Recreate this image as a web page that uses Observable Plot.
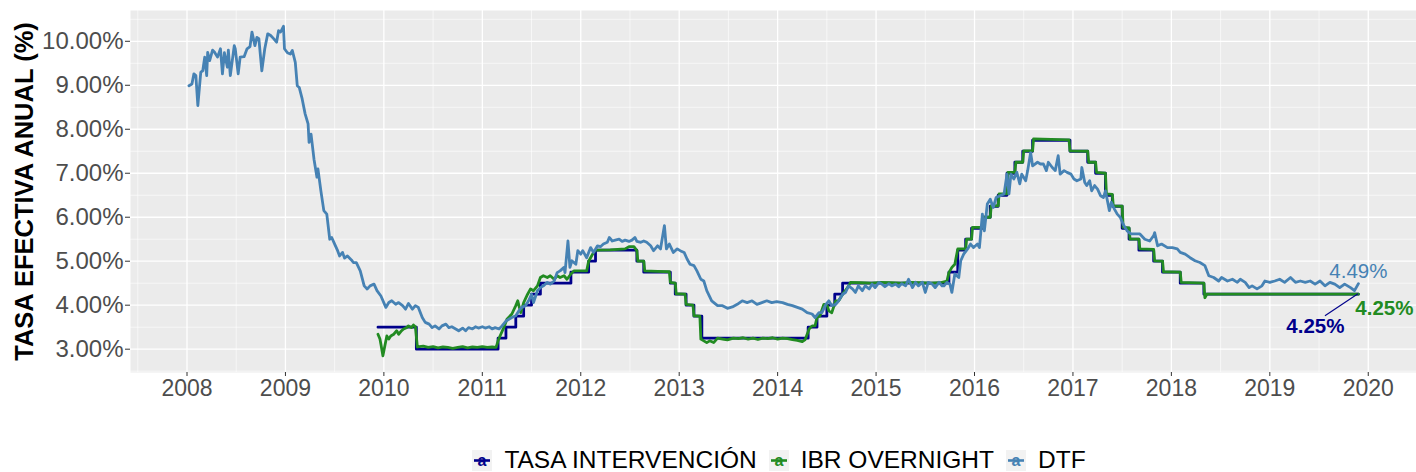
<!DOCTYPE html>
<html>
<head>
<meta charset="utf-8">
<script src="https://cdn.jsdelivr.net/npm/d3@7"></script>
<script src="https://cdn.jsdelivr.net/npm/@observablehq/plot@0.6"></script>
<style>
html, body { margin: 0; padding: 0; background: #ffffff; }
body { width: 1416px; height: 472px; overflow: hidden; position: relative; font-family: "Liberation Sans", Arial, sans-serif; }
#chart { position: absolute; left: 0; top: 0; }
#legend { position: absolute; left: 0; top: 448px; width: 1416px; padding-left: 142px; box-sizing: border-box; height: 24px;
  display: flex; justify-content: center; align-items: center; font-size: 24.5px; color: #000; }
.item { display: flex; align-items: center; margin: 0 6px; }
.item svg { margin-right: 12px; }
</style>
</head>
<body>
<div id="chart"></div>
<div id="legend"></div>
<script>
// ---------------- DATA ----------------
const seriesNames = ["TASA INTERVENCIÓN", "IBR OVERNIGHT", "DTF"];
const seriesColors = ["#00008B", "#228B22", "#4682B4"];
const xTicks = [2008, 2009, 2010, 2011, 2012, 2013, 2014, 2015, 2016, 2017, 2018, 2019, 2020];
const yTicks = [3, 4, 5, 6, 7, 8, 9, 10];
const yTitle = "TASA EFECTIVA ANUAL (%)";

// DTF (weekly, decimal years)
const dtfDates = [
2008.02,2008.05,2008.07,2008.09,2008.11,2008.14,2008.16,2008.18,2008.20,2008.21,2008.23,2008.26,2008.28,2008.31,2008.34,2008.36,2008.38,2008.41,2008.42,2008.44,
2008.48,2008.49,2008.52,2008.54,2008.58,2008.61,2008.64,2008.66,2008.69,2008.71,2008.73,2008.76,2008.79,2008.82,2008.85,2008.88,2008.91,2008.93,2008.95,2008.98,
2008.99,2009.02,2009.05,2009.07,2009.10,2009.12,2009.14,2009.17,2009.20,2009.23,2009.24,2009.26,2009.29,2009.32,2009.33,2009.36,2009.39,2009.42,2009.45,2009.47,
2009.50,2009.53,2009.55,2009.58,2009.60,2009.63,2009.67,2009.69,2009.72,
2009.76,2009.80,2009.83,2009.86,2009.90,2009.93,2009.97,2010.02,2010.05,2010.08,2010.12,2010.15,2010.19,2010.22,2010.25,2010.29,2010.32,2010.35,2010.39,2010.42,
2010.46,2010.49,2010.52,2010.56,2010.59,2010.63,2010.66,2010.69,2010.73,2010.76,2010.80,2010.83,2010.86,2010.90,2010.93,2010.96,2011.00,2011.03,2011.07,2011.10,
2011.13,2011.17,2011.20,2011.24,2011.27,2011.30,2011.34,2011.37,2011.40,2011.44,2011.47,2011.50,2011.52,2011.56,2011.59,2011.62,2011.66,2011.69,2011.73,2011.76,
2011.79,2011.83,2011.84,2011.87,2011.89,2011.91,2011.95,2011.97,2012.00,2012.02,2012.06,2012.10,2012.13,2012.17,2012.20,2012.23,2012.27,2012.29,2012.32,2012.35,
2012.39,2012.42,2012.45,2012.49,2012.52,2012.55,2012.57,2012.61,2012.64,2012.67,2012.71,2012.74,2012.78,2012.81,2012.85,2012.87,2012.90,2012.94,2012.98,2013.01,
2013.05,2013.08,2013.11,2013.15,2013.18,2013.22,
2013.25,2013.28,2013.33,2013.39,2013.44,2013.49,2013.54,2013.59,2013.64,2013.69,2013.74,2013.79,2013.84,2013.89,2013.94,2013.99,2014.05,2014.10,2014.15,2014.20,
2014.25,2014.30,2014.35,2014.38,2014.42,2014.45,2014.49,2014.52,2014.55,2014.59,2014.62,2014.66,2014.69,2014.72,2014.76,2014.79,2014.82,2014.86,2014.89,2014.93,
2014.96,2014.99,2015.03,2015.06,2015.09,2015.13,2015.16,2015.20,2015.23,2015.26,2015.30,2015.33,2015.37,2015.40,2015.43,2015.47,2015.50,2015.53,2015.57,2015.60,
2015.64,
2015.67,2015.69,2015.72,2015.75,2015.77,2015.80,2015.84,2015.86,2015.89,2015.93,2015.96,2015.99,2016.03,2016.05,2016.08,2016.10,2016.13,2016.16,2016.19,2016.22,
2016.26,2016.30,2016.33,2016.35,2016.37,2016.40,2016.43,2016.46,2016.48,2016.52,2016.54,2016.57,2016.59,2016.64,2016.67,2016.70,2016.73,2016.75,2016.79,2016.82,
2016.85,2016.87,2016.91,2016.94,2016.98,2017.01,2017.04,2017.08,2017.09,2017.12,2017.14,2017.17,2017.19,2017.22,2017.25,2017.28,2017.31,2017.33,2017.37,2017.39,
2017.42,2017.45,2017.48,2017.51,
2017.55,2017.59,2017.63,2017.68,2017.73,2017.78,2017.82,2017.83,2017.86,2017.90,2017.96,2018.01,2018.06,2018.09,2018.14,2018.19,2018.24,2018.29,2018.34,2018.38,
2018.43,2018.48,2018.51,2018.57,2018.62,2018.67,2018.70,2018.75,2018.79,2018.82,2018.87,2018.92,2018.95,2019.00,2019.05,2019.10,2019.15,2019.21,2019.26,2019.31,
2019.36,2019.41,2019.46,2019.51,2019.56,2019.61,2019.66,2019.71,2019.76,2019.82,2019.86,2019.90
];
const dtfValues = [
8.99,9.03,9.26,9.22,8.54,9.30,9.33,9.64,9.22,9.75,9.56,9.80,9.75,9.64,9.83,9.26,9.74,9.41,9.80,9.22,
9.90,9.83,9.26,9.64,9.65,9.83,9.88,10.21,9.90,10.09,10.06,9.33,9.83,10.17,10.13,10.06,9.98,10.24,10.21,10.34,
9.83,9.74,9.71,9.79,9.52,8.99,8.95,8.69,8.35,8.12,7.70,7.89,7.32,6.91,7.10,6.60,6.15,6.07,5.50,5.54,
5.39,5.24,5.12,5.20,5.07,5.12,5.03,4.97,4.97,
4.78,4.44,4.37,4.44,4.48,4.33,4.21,3.95,4.06,4.10,4.02,4.06,3.99,3.91,4.04,3.91,3.99,3.95,3.72,3.61,
3.57,3.49,3.53,3.46,3.53,3.57,3.49,3.51,3.46,3.42,3.48,3.42,3.49,3.46,3.51,3.48,3.51,3.48,3.51,3.46,
3.49,3.46,3.53,3.64,3.68,3.72,3.76,3.87,3.95,3.99,4.10,4.25,4.06,4.33,4.40,4.44,4.52,4.48,4.55,4.74,
4.78,4.86,4.74,5.46,4.86,5.01,4.93,5.24,5.16,5.24,5.08,5.31,5.20,5.35,5.33,5.39,5.43,5.54,5.46,5.48,
5.50,5.45,5.48,5.45,5.48,5.54,5.45,5.43,5.46,5.43,5.35,5.24,5.35,5.28,5.81,5.28,5.39,5.20,5.28,5.24,
5.20,5.05,4.93,4.90,4.78,4.59,
4.55,4.33,4.10,3.99,3.99,3.93,3.96,4.02,4.10,4.06,4.10,4.02,4.06,4.10,4.06,4.08,4.06,4.02,3.99,3.95,
3.91,3.83,3.80,3.72,3.83,3.83,4.02,4.10,3.99,4.02,4.10,4.25,4.29,4.44,4.37,4.29,4.44,4.33,4.44,4.37,
4.48,4.40,4.52,4.48,4.42,4.49,4.44,4.48,4.42,4.49,4.44,4.59,4.40,4.52,4.44,4.52,4.29,4.52,4.48,4.40,
4.52,
4.44,4.44,4.52,4.48,4.29,4.71,4.63,5.01,5.16,5.28,5.39,5.31,5.39,5.31,6.07,5.69,6.30,6.41,6.22,6.45,
6.49,6.53,6.98,6.53,6.98,6.87,7.02,6.76,6.98,6.83,7.06,7.47,7.17,7.25,7.21,7.21,7.06,7.25,7.13,7.06,
7.40,6.98,7.06,7.02,6.98,6.87,6.83,6.87,7.13,6.79,6.72,6.83,6.60,6.72,6.64,6.49,6.45,6.60,6.15,6.34,
6.19,6.07,6.00,5.84,
5.69,5.62,5.62,5.62,5.50,5.46,5.58,5.65,5.35,5.39,5.31,5.31,5.28,5.20,5.16,5.08,5.01,4.97,4.90,4.67,
4.63,4.55,4.63,4.55,4.59,4.52,4.59,4.52,4.40,4.44,4.37,4.44,4.55,4.52,4.55,4.59,4.52,4.63,4.52,4.55,
4.52,4.55,4.48,4.55,4.44,4.52,4.48,4.40,4.48,4.40,4.33,4.49
];

// IBR OVERNIGHT
const ibrDates = [
2009.94,2009.96,2009.97,2009.99,2010.01,2010.03,2010.05,2010.07,2010.10,2010.13,2010.15,2010.18,2010.20,2010.23,2010.25,2010.28,2010.30,2010.32,2010.34,2010.40,
2010.45,2010.50,2010.55,2010.60,2010.65,2010.70,2010.75,2010.80,2010.85,2010.90,2010.95,2011.00,2011.05,2011.10,2011.14,2011.16,2011.18,2011.22,2011.25,2011.30,
2011.34,2011.36,2011.39,2011.42,2011.46,2011.49,2011.52,2011.56,2011.59,2011.62,2011.66,2011.69,2011.73,2011.76,2011.79,2011.83,2011.86,2011.90,2011.93,2011.99,
2012.06,2012.08,2012.13,2012.15,2012.30,2012.45,2012.49,2012.54,2012.57,2012.58,2012.64,2012.65,2012.78,2012.90,2012.91,2012.96,2012.97,2013.06,2013.07,2013.14,
2013.15,2013.21,2013.22,2013.25,2013.28,2013.31,2013.35,2013.39,2013.44,2013.49,2013.55,2013.60,2013.65,2013.70,2013.75,2013.80,2013.85,2013.90,2013.95,2014.00,
2014.05,2014.10,2014.15,2014.20,2014.25,2014.28,2014.32,2014.35,2014.38,2014.40,2014.43,2014.47,2014.50,2014.52,2014.55,2014.59,2014.62,2014.66,2014.71,2014.74,
2014.85,2014.95,2015.05,2015.15,2015.25,2015.35,2015.45,2015.55,2015.65,2015.72,2015.74,2015.77,2015.80,2015.83,2015.91,2015.92,2015.97,2015.98,2016.08,2016.09,
2016.16,2016.17,2016.24,2016.25,2016.33,2016.34,2016.41,2016.42,2016.49,2016.50,2016.59,2016.60,2016.96,2016.97,2017.15,2017.16,2017.23,2017.24,2017.33,2017.34,
2017.40,2017.41,2017.50,2017.51,2017.57,2017.58,2017.67,2017.68,2017.82,2017.83,2017.91,2017.92,2018.09,2018.10,2018.33,2018.34,2018.36,2019.90
];
const ibrValues = [
3.34,3.23,3.11,2.85,3.08,3.30,3.23,3.30,3.34,3.42,3.34,3.42,3.46,3.49,3.53,3.49,3.55,3.51,3.05,3.07,
3.04,3.06,3.03,3.05,3.04,3.02,3.04,3.06,3.03,3.05,3.04,3.06,3.04,3.05,3.04,3.19,3.30,3.50,3.68,3.80,
3.99,4.10,3.83,4.06,4.25,4.37,4.33,4.44,4.63,4.67,4.63,4.67,4.59,4.67,4.63,4.67,4.59,4.71,4.78,4.78,
4.78,5.00,5.20,5.25,5.26,5.28,5.33,5.33,5.24,5.00,5.00,4.78,4.77,4.76,4.52,4.50,4.26,4.25,4.02,4.00,
3.76,3.75,3.23,3.19,3.15,3.19,3.15,3.25,3.23,3.21,3.25,3.24,3.26,3.23,3.25,3.22,3.25,3.24,3.26,3.23,
3.25,3.24,3.22,3.20,3.17,3.22,3.46,3.53,3.53,3.72,3.76,4.02,4.02,3.87,3.83,4.10,4.10,4.25,4.40,4.52,
4.51,4.50,4.52,4.51,4.50,4.52,4.51,4.50,4.51,4.55,4.74,4.86,4.93,5.28,5.28,5.50,5.50,5.77,5.77,6.00,
6.00,6.26,6.26,6.53,6.53,7.02,7.02,7.25,7.25,7.51,7.51,7.78,7.76,7.51,7.50,7.25,7.25,7.02,7.00,6.53,
6.52,6.26,6.25,5.77,5.76,5.50,5.50,5.28,5.27,5.01,5.00,4.76,4.75,4.52,4.50,4.17,4.25,4.25
];

// TASA DE INTERVENCIÓN (step changes)
const tasaDates = [
2009.94,2010.33,2011.16,2011.24,2011.34,2011.42,2011.50,2011.59,2011.90,2012.08,2012.15,2012.57,2012.64,2012.91,2012.96,2013.07,2013.15,2013.23,
2014.31,2014.40,2014.50,2014.58,2014.66,2015.74,2015.83,2015.91,2015.97,2016.08,2016.16,2016.24,2016.33,2016.41,2016.49,2016.59,
2016.97,2017.15,2017.23,2017.33,2017.40,2017.50,2017.57,2017.67,2017.82,2017.91,2018.09,2018.33,2019.90
];
const tasaValues = [
3.50,3.00,3.25,3.50,3.75,4.00,4.25,4.50,4.75,5.00,5.25,5.00,4.75,4.50,4.25,4.00,3.75,3.25,
3.50,3.75,4.00,4.25,4.50,4.75,5.25,5.50,5.75,6.00,6.25,6.50,7.00,7.25,7.50,7.75,
7.50,7.25,7.00,6.50,6.25,5.75,5.50,5.25,5.00,4.75,4.50,4.25,4.25
];

// ---------------- BUILD ----------------
const toRows = (dates, values) => dates.map((d, i) => ({x: d, y: values[i]}));
const tasa = toRows(tasaDates, tasaValues);
const ibr = toRows(ibrDates, ibrValues);
const dtf = toRows(dtfDates, dtfValues);

const last = a => a[a.length - 1];
const fmtPct = v => v.toFixed(2) + "%";

const xMajor = xTicks;
const xMinor = d3.range(2007.5, 2021, 1);
const yMajor = yTicks;
const yMinor = d3.range(2.5, 11, 1);

const font = "'Liberation Sans', Arial, sans-serif";

const chart = Plot.plot({
  width: 1416,
  height: 412,
  marginTop: 10,
  marginBottom: 40,
  marginLeft: 130,
  marginRight: 0,
  style: {fontFamily: font, background: "white", overflow: "visible"},
  x: {domain: [2007.426, 2020.49], label: null},
  y: {domain: [2.47, 10.70], label: null},
  marks: [
    Plot.frame({fill: "#EBEBEB", stroke: "none"}),
    Plot.ruleX(xMinor, {stroke: "white", strokeWidth: 0.6}),
    Plot.ruleY(yMinor, {stroke: "white", strokeWidth: 0.6}),
    Plot.ruleX(xMajor, {stroke: "white", strokeWidth: 1.3}),
    Plot.ruleY(yMajor, {stroke: "white", strokeWidth: 1.3}),
    Plot.line(tasa, {x: "x", y: "y", curve: "step-after", stroke: seriesColors[0], strokeWidth: 2.8}),
    Plot.line(ibr, {x: "x", y: "y", stroke: seriesColors[1], strokeWidth: 2.8}),
    Plot.line(dtf, {x: "x", y: "y", stroke: seriesColors[2], strokeWidth: 2.8}),
    Plot.axisX(xTicks, {tickFormat: d => String(d), tickSize: 4, tickPadding: 3, fontSize: 23,
      fill: "#4D4D4D", stroke: "#333333", label: null}),
    Plot.axisY(yTicks, {tickFormat: d => d.toFixed(2) + "%", tickSize: 5, tickPadding: 2, fontSize: 24,
      fill: "#4D4D4D", stroke: "#333333", label: null}),
    Plot.text([yTitle], {frameAnchor: "left", textAnchor: "middle", lineAnchor: "middle", dx: -106, rotate: -90,
      fontSize: 25.5, fontWeight: "bold", fill: "#000"}),
    // end labels
    Plot.text([last(dtf)], {x: "x", y: "y", text: d => fmtPct(d.y), fill: seriesColors[2], fontSize: 20.5, dy: -12}),
    Plot.text([last(ibr)], {x: "x", y: "y", text: d => fmtPct(d.y), fill: seriesColors[1], fontSize: 20.5, fontWeight: "bold", dx: 26, dy: 14}),
    Plot.text([last(tasa)], {x: "x", y: "y", text: d => fmtPct(d.y), fill: seriesColors[0], fontSize: 20.5, fontWeight: "bold", dx: -43, dy: 32}),
    (index, scales) => {
      const p = last(tasa);
      const x0 = scales.x(p.x), y0 = scales.y(p.y);
      const line = d3.create("svg:line")
        .attr("x1", x0).attr("y1", y0)
        .attr("x2", x0 - 33).attr("y2", y0 + 22)
        .attr("stroke", seriesColors[0]).attr("stroke-width", 1.1);
      return line.node();
    }
  ]
});
document.getElementById("chart").appendChild(chart);

// Legend
const legend = document.getElementById("legend");
seriesNames.forEach((name, i) => {
  const item = document.createElement("div");
  item.className = "item";
  item.innerHTML = `<svg width="20" height="21" viewBox="0 0 20 21">
    <rect width="20" height="21" fill="#F2F2F2"></rect>
    <line x1="2" x2="18" y1="10.5" y2="10.5" stroke="${seriesColors[i]}" stroke-width="2.6"></line>
    <text x="10" y="16" text-anchor="middle" font-size="16" font-weight="bold" fill="${seriesColors[i]}" font-family="${font}">a</text>
  </svg><span>${name}</span>`;
  legend.appendChild(item);
});
</script>
</body>
</html>
